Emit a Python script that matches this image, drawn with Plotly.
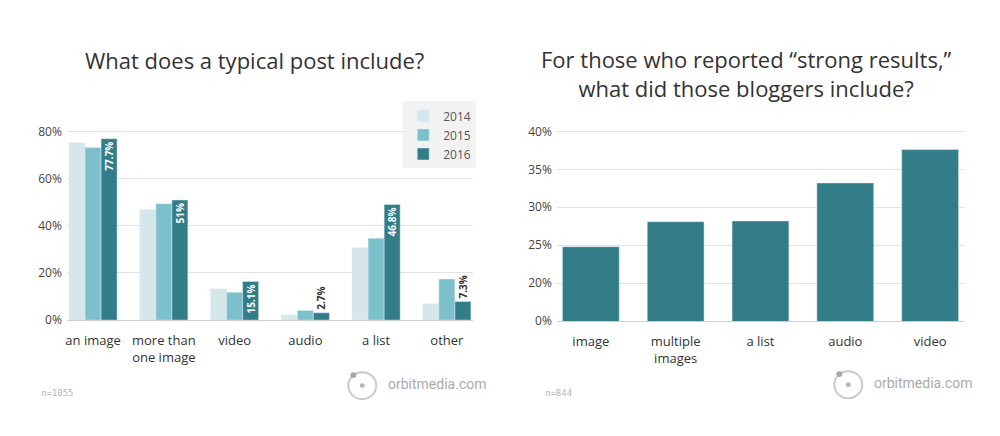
import plotly.graph_objects as go

# left chart: what does a typical post include (share of posts, %)
post_items = ["an image", "more than<br>one image", "video", "audio", "a list", "other"]
y2014 = [75.2, 46.9, 13.3, 2.2, 30.7, 6.9]
y2015 = [73.1, 49.3, 11.8, 4.1, 34.7, 17.4]
y2016 = [76.9, 50.9, 16.4, 3.1, 49.0, 7.9]
labels_2016 = ["77.7%", "51%", "15.1%", "2.7%", "46.8%", "7.3%"]
label_pos_2016 = ["inside", "inside", "inside", "outside", "inside", "outside"]
post_ticks = [0, 20, 40, 60, 80]
post_ticktext = ["0%", "20%", "40%", "60%", "80%"]

# right chart: bloggers reporting strong results (%)
strong_items = ["image", "multiple<br>images", "a list", "audio", "video"]
strong_vals = [24.8, 28.1, 28.2, 33.2, 37.6]
# the right axis is broken: 0% sits where 15% would be
strong_ticks = [15, 20, 25, 30, 35, 40]
strong_ticktext = ["0%", "20%", "25%", "30%", "35%", "40%"]

C14, C15, C16 = "#d5e7ea", "#7cc0cb", "#337d88"
FONT = "Open Sans, sans-serif"
W, H = 1000, 436


def px(x):
    return x / W


def py(y):
    return 1 - y / H


fig = go.Figure()
fig.add_trace(go.Bar(x=post_items, y=y2014, name="2014", marker_color=C14,
                     xaxis="x", yaxis="y"))
fig.add_trace(go.Bar(x=post_items, y=y2015, name="2015", marker_color=C15,
                     xaxis="x", yaxis="y"))
fig.add_trace(go.Bar(x=post_items, y=y2016, name="2016", marker_color=C16,
                     xaxis="x", yaxis="y",
                     text=labels_2016, textposition=label_pos_2016,
                     textangle=-90, insidetextanchor="end", constraintext="none",
                     cliponaxis=False,
                     insidetextfont=dict(color="white", size=10, family=FONT, weight="bold"),
                     outsidetextfont=dict(color="#333333", size=10, family=FONT, weight="bold")))
fig.add_trace(go.Bar(x=strong_items, y=strong_vals, marker_color=C16, width=0.67,
                     showlegend=False, xaxis="x2", yaxis="y2"))

grid = "#e2e2e2"
tickfont = dict(family=FONT, size=12, color="#444444")
xfont = dict(family=FONT, size=13, color="#333333")

fig.update_layout(
    width=W, height=H, autosize=False,
    margin=dict(l=0, r=0, t=0, b=0),
    paper_bgcolor="white", plot_bgcolor="white",
    barmode="group", bargap=0.32, bargroupgap=0,
    font=dict(family=FONT),
    xaxis=dict(domain=[px(65), px(472)], range=[-0.37, 5.37], showgrid=False,
               showline=True, linecolor="#cfcfcf", ticks="", tickfont=xfont,
               anchor="y", ticklabelstandoff=8),
    yaxis=dict(domain=[py(324), py(126.8)], range=[0, 80.5], tickvals=post_ticks,
               ticktext=post_ticktext, showgrid=True, gridcolor=grid, zeroline=False,
               tickfont=tickfont, anchor="x", ticklabelstandoff=4),
    xaxis2=dict(domain=[px(556), px(964)], range=[-0.4, 4.4], showgrid=False,
                showline=True, linecolor="#cfcfcf", ticks="", tickfont=xfont,
                anchor="y2", ticklabelstandoff=8),
    yaxis2=dict(domain=[py(325), py(125.7)], range=[15, 40.3], tickvals=strong_ticks,
                ticktext=strong_ticktext, showgrid=True, gridcolor=grid, zeroline=False,
                tickfont=tickfont, anchor="x2", ticklabelstandoff=4),
    legend=dict(x=px(402), y=py(97), xanchor="left", yanchor="top",
                bgcolor="#f2f2f2", font=dict(family=FONT, size=12, color="#555555"),
                itemwidth=30, tracegroupgap=0),
    showlegend=True,
)

annots = [
    dict(text="What does a typical post include?", x=px(253), y=py(54)),
    dict(text="For those who reported \u201cstrong results,\u201d<br>what did those bloggers include?",
         x=px(746), y=py(68.5)),
]
for a in annots:
    fig.add_annotation(xref="paper", yref="paper", showarrow=False,
                       xanchor="center", yanchor="middle",
                       font=dict(family=FONT, size=22, color="#333333"), **a)

for note, nx in [("n=1055", 37), ("n=844", 542)]:
    fig.add_annotation(text=note, xref="paper", yref="paper", x=px(nx), y=py(400),
                       xanchor="left", yanchor="middle", showarrow=False,
                       font=dict(family="DejaVu Sans Mono, monospace", size=9, color="#b5b5b5"))

# orbitmedia logos
for cx, cy in [(361, 392), (848, 391)]:
    r = 14
    fig.add_shape(type="circle", xref="paper", yref="paper",
                  x0=px(cx - r), x1=px(cx + r), y0=py(cy + r), y1=py(cy - r),
                  line=dict(color="#cacaca", width=2))
    fig.add_shape(type="circle", xref="paper", yref="paper",
                  x0=px(cx - 2.5), x1=px(cx + 2.5), y0=py(cy + 2.5), y1=py(cy - 2.5),
                  fillcolor="#b5b5b5", line=dict(width=0))
    fig.add_shape(type="circle", xref="paper", yref="paper",
                  x0=px(cx - 12), x1=px(cx - 6), y0=py(cy - 8), y1=py(cy - 14),
                  fillcolor="#a8a8a8", line=dict(width=0))
    fig.add_annotation(text="orbitmedia.com", xref="paper", yref="paper",
                       x=px(cx + 24), y=py(cy - 2), xanchor="left", yanchor="middle",
                       showarrow=False,
                       font=dict(family="Roboto, sans-serif", size=14, color="#ababab"))

page_css = ("var s=document.createElement('style');"
            "s.textContent='html,body{margin:0;padding:0;overflow:hidden;height:436px}';"
            "document.head.appendChild(s);")
fig.write_html("out.html", config={"displayModeBar": False}, post_script=page_css)
